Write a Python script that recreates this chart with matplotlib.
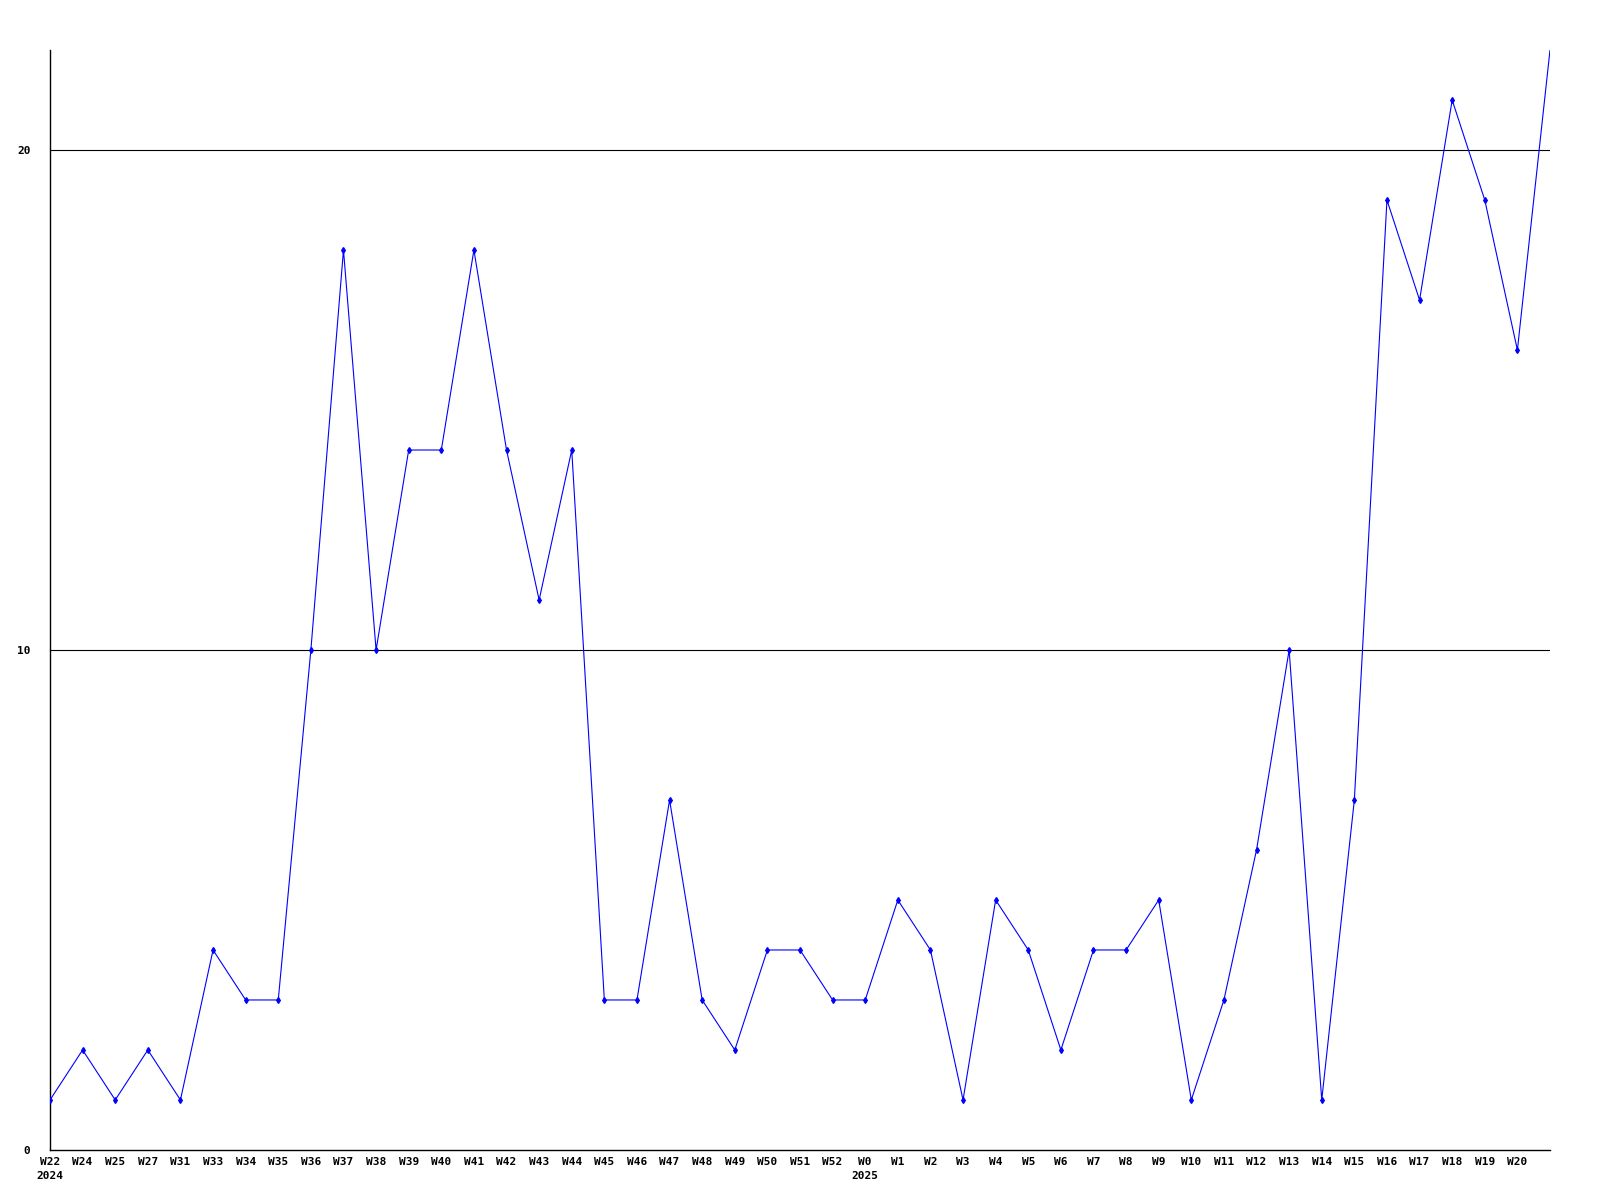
import numpy as np
import matplotlib
matplotlib.use("Agg")
from matplotlib import pyplot as plt

# weekly values
weeks = ["W22", "W24", "W25", "W27", "W31", "W33", "W34", "W35", "W36", "W37",
         "W38", "W39", "W40", "W41", "W42", "W43", "W44", "W45", "W46", "W47",
         "W48", "W49", "W50", "W51", "W52", "W0", "W1", "W2", "W3", "W4",
         "W5", "W6", "W7", "W8", "W9", "W10", "W11", "W12", "W13", "W14",
         "W15", "W16", "W17", "W18", "W19", "W20", ""]
values = [1, 2, 1, 2, 1, 4, 3, 3, 10, 18,
          10, 14, 14, 18, 14, 11, 14, 3, 3, 7,
          3, 2, 4, 4, 3, 3, 5, 4, 1, 5,
          4, 2, 4, 4, 5, 1, 3, 6, 10, 1,
          7, 19, 17, 21, 19, 16, 22]
years = {0: "2024", 25: "2025"}

x = np.arange(len(values))

fig = plt.figure(figsize=(16, 12), dpi=100)
ax = fig.add_axes([0.03125, 0.0417, 0.9375, 0.9166])

for yv in (10, 20):
    ax.axhline(yv, color="black", linewidth=0.8, zorder=1)

# the last point sits on the top edge, no marker drawn there
ax.plot(x, values, color="#0000ff", linewidth=0.8, marker="d", markersize=3,
        markevery=list(range(len(values) - 1)), zorder=3)

ax.set_xlim(0, len(values) - 1)
ax.set_ylim(0, 22)

for s in ("top", "right"):
    ax.spines[s].set_visible(False)
for s in ("left", "bottom"):
    ax.spines[s].set_linewidth(1)
    ax.spines[s].set_color("black")

font = dict(family="DejaVu Sans Mono", weight="bold", size=8)
ax.set_yticks([0, 10, 20])
ax.set_yticklabels(["0", "10", "20"], fontdict=font)
ax.tick_params(axis="y", length=0, pad=14)

labels = []
for i, w in enumerate(weeks):
    labels.append(w + ("\n" + years[i] if i in years else ""))
ax.set_xticks(x)
ax.set_xticklabels(labels, fontdict=font, linespacing=1.5)
ax.tick_params(axis="x", length=0, pad=5)

fig.savefig("out.png", dpi=100)
